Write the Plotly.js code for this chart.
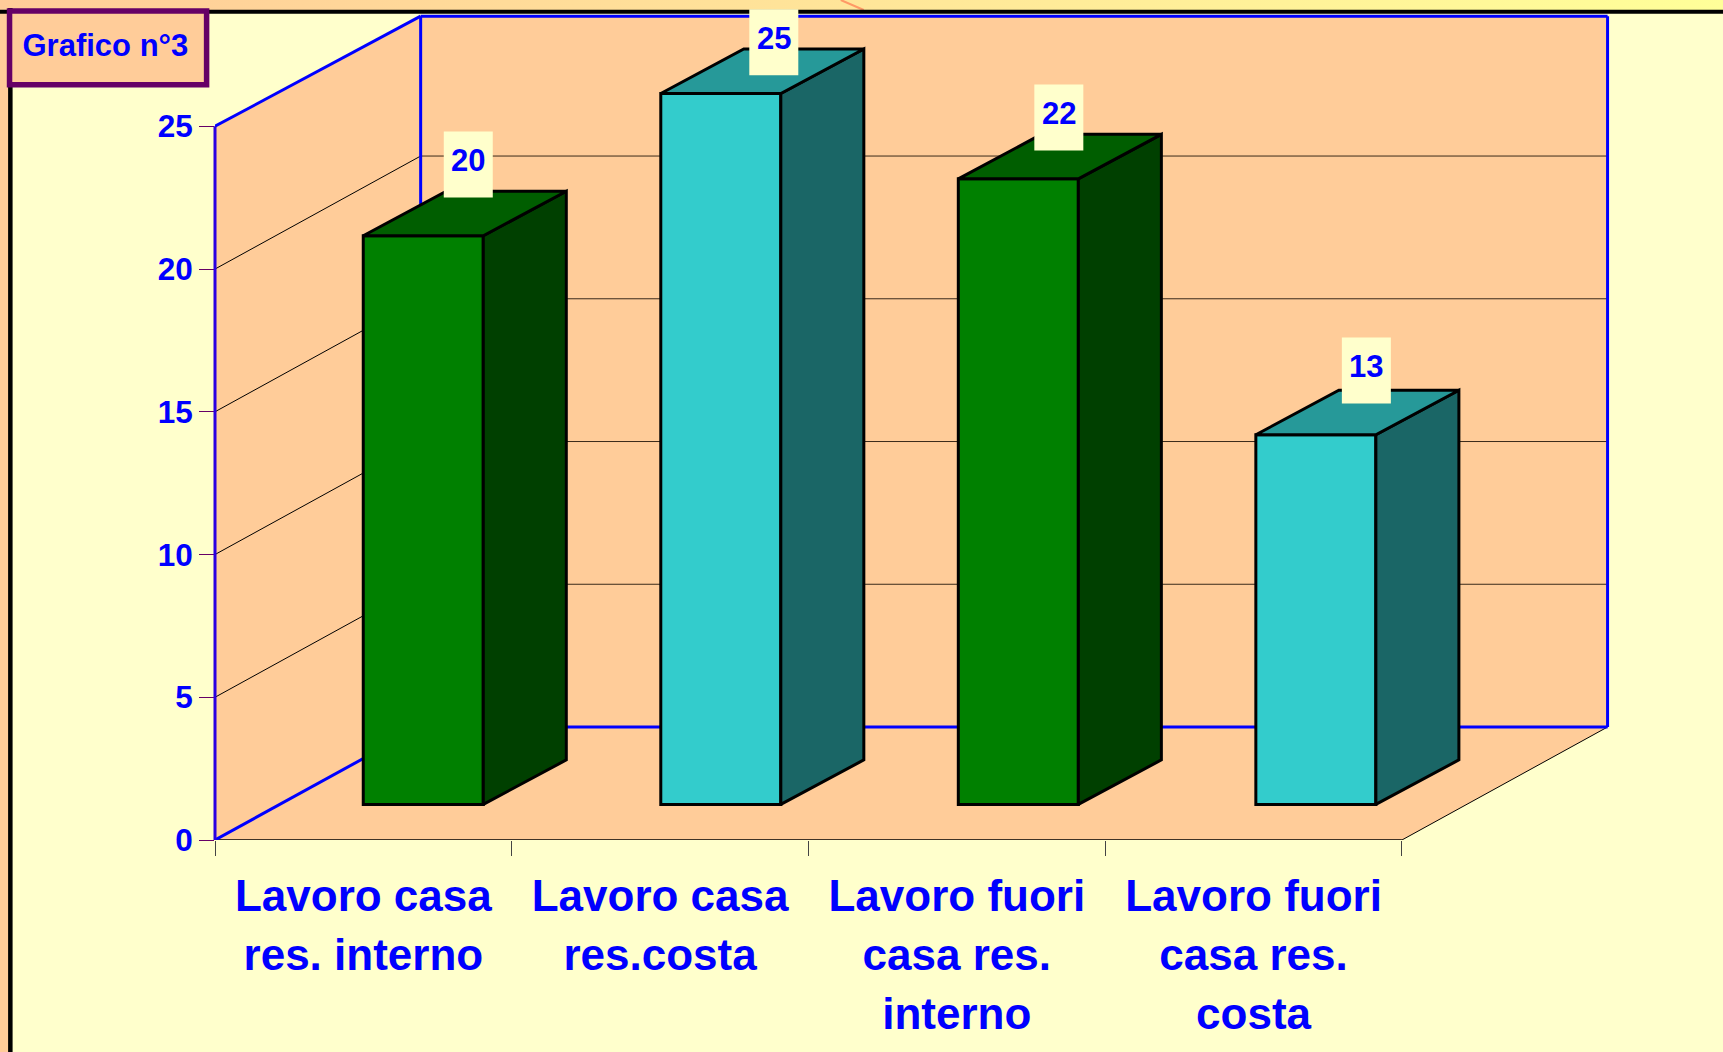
<!DOCTYPE html>
<html><head><meta charset="utf-8">
<script src="https://cdn.plot.ly/plotly-3.0.1.min.js"></script>
<style>
html,body{margin:0;padding:0;width:1723px;height:1052px;overflow:hidden;background:linear-gradient(to right,#FFCC99,#FFFF99);}
#chart{width:1723px;height:1052px;}
</style></head><body><div id="chart"></div>
<script>
// ---- data ----
const categories = ["Lavoro casa<br>res. interno","Lavoro casa<br>res.costa","Lavoro fuori<br>casa res.<br>interno","Lavoro fuori<br>casa res.<br>costa"];
const values = [20,25,22,13];
const yTicks = [0,5,10,15,20,25];
const chartTitle = "Grafico n°3";

// ---- styles ----
const BLUE="#0000FF", PEACH="#FFCC99", PALE="#FFFFCC", PURPLE="#660066", FONT="Liberation Sans, Arial, sans-serif";
const frontColors=["#008000","#33CCCC","#008000","#33CCCC"];
const topColors  =["#005E00","#269999","#005E00","#269999"];
const sideColors =["#004000","#1A6666","#004000","#1A6666"];

// ---- geometry of the frame ----
const W=1723,H=1052, X0=215.4, Y0=840, catPx=296.65, valPx=28.548;
const wallDX=205.6/catPx, wallDY=113/valPx;   // wall depth in axis units
const barScale=0.996;                          // vertical scale of bars / back wall top
const barPitch=1.0027, barStart=0.4996, barW=120/catPx;
const barBase=35.6/valPx, barDX=83/catPx, barDY=44.5/valPx;
const labelShift=[[3.5,49],[11.5,29],[-1,39],[9,42]];
const labelLift=4, edge=3, wallLine=3;

const P=(c,d,v)=>[c+wallDX*d, v+wallDY*d];
const pathOf=pts=>"M"+pts.map(p=>p[0]+" "+p[1]).join("L")+"Z";
const poly=(pts,fill,line,w)=>({type:"path",xref:"x",yref:"y",layer:"below",path:pathOf(pts),fillcolor:fill,line:{color:line||fill,width:line?w:0}});
const seg=(a,b,color,w)=>({type:"line",xref:"x",yref:"y",layer:"below",x0:a[0],y0:a[1],x1:b[0],y1:b[1],line:{color,width:w}});
const px=x=>(x-X0)/(W-X0), py=y=>(Y0-y)/Y0;
const box=(x0,y0,x1,y1,fill,line,w,layer)=>({type:"rect",xref:"paper",yref:"paper",layer:layer||"below",x0:px(x0),x1:px(x1),y0:py(y0),y1:py(y1),fillcolor:fill,line:{color:line||fill,width:line?w:0}});
const pline=(x0,y0,x1,y1,c,w)=>({type:"line",xref:"paper",yref:"paper",layer:"below",x0:px(x0),x1:px(x1),y0:py(y0),y1:py(y1),line:{color:c,width:w}});

const nCat=categories.length, yMax=yTicks[yTicks.length-1], wallTop=yMax*barScale;
const shapes=[
  box(10,12,W+2,H+2,PALE),
  pline(841,0,864,10,"#FF9966",2),
  pline(-2,11.7,W,11.7,"#000000",4),
  pline(10.8,8,10.8,H,"#000000",4.5),
  poly([P(0,0,0),P(0,1,0),P(0,1,wallTop),P(0,0,yMax)],PEACH),
  poly([P(0,1,0),P(nCat,1,0),P(nCat,1,wallTop),P(0,1,wallTop)],PEACH),
  poly([P(0,0,0),P(nCat,0,0),P(nCat,1,0),P(0,1,0)],PEACH)
];
yTicks.filter(v=>v>0&&v<yMax).forEach(v=>{
  shapes.push(seg(P(0,0,v),P(0,1,v),"#000000",1));
  shapes.push(seg(P(0,1,v),P(nCat,1,v),"#3a2a1a",1));
});
shapes.push(
  seg(P(0,0,0),P(nCat,0,0),"#000000",1.5),
  seg(P(nCat,0,0),P(nCat,1,0),"#000000",1),
  seg(P(0,1,0),P(nCat,1,0),BLUE,wallLine),
  seg(P(0,0,0),P(0,1,0),BLUE,wallLine),
  seg(P(0,0,yMax),P(0,1,wallTop),BLUE,wallLine),
  seg(P(0,1,0),P(0,1,wallTop),BLUE,wallLine),
  seg(P(0,1,wallTop),P(nCat,1,wallTop),BLUE,wallLine),
  seg(P(nCat,1,0),P(nCat,1,wallTop),BLUE,wallLine)
);
// front edge of the side wall: paper-referenced, so the plot edge does not clip half of it
shapes.push({type:"line",xref:"paper",yref:"y",layer:"above",x0:0,x1:0,y0:0,y1:yMax,line:{color:"#2A00E0",width:wallLine}});
shapes.push(box(10,11,207,84.8,PEACH,PURPLE,5.5,"above"));

// ---- traces ----
const lefts=values.map((_,i)=>barStart+i*barPitch);
const heights=values.map(v=>v*barScale);
const traces=[{
  type:"bar",x:lefts.map(l=>l+barW/2),y:heights,base:values.map(()=>barBase),width:barW,
  marker:{color:frontColors,line:{color:"#000000",width:edge}},hoverinfo:"skip",showlegend:false
}];
values.forEach((v,i)=>{
  const l=lefts[i], r=l+barW, b=barBase, t=barBase+heights[i];
  const face=(xs,ys,c)=>traces.push({type:"scatter",mode:"lines",x:xs,y:ys,fill:"toself",fillcolor:c,
     line:{color:"#000000",width:edge},hoverinfo:"skip",showlegend:false,cliponaxis:false});
  face([r,r+barDX,r+barDX,r,r],[b,b+barDY,t+barDY,t,b],sideColors[i]);
  face([l,r,r+barDX,l+barDX,l],[t,t,t+barDY,t+barDY,t],topColors[i]);
});

// data labels: pale box (pixel-sized shape anchored to the bar top) + text
const anchorX=i=>lefts[i]+barW/2+barDX/2, anchorY=i=>barBase+heights[i]+barDY/2;
values.forEach((v,i)=>{
  const [sx,sy]=labelShift[i];
  shapes.push({type:"rect",layer:"above",xref:"x",yref:"y",xsizemode:"pixel",ysizemode:"pixel",
    xanchor:anchorX(i),yanchor:anchorY(i),x0:sx-24.5,x1:sx+24.5,y0:sy-33,y1:sy+33,fillcolor:PALE,line:{width:0}});
});
const annotations=values.map((v,i)=>({
  xref:"x",yref:"y",x:anchorX(i),y:anchorY(i),
  xshift:labelShift[i][0],yshift:labelShift[i][1]+labelLift,
  text:String(v),showarrow:false,align:"center",
  xanchor:"center",yanchor:"middle",font:{family:FONT,size:31,color:BLUE,weight:700}
}));

const tickFontPx=44, tickLinePx=45.6; // font of the letters / font that sets the line spacing
const tickLabels=categories.map(c=>c.split("<br>").map(s=>'<span style="font-size:'+tickFontPx+'px">'+s+'</span>').join("<br>"));

const layout={
  width:W,height:H,autosize:false,
  paper_bgcolor:"rgba(0,0,0,0)",plot_bgcolor:"rgba(0,0,0,0)",
  margin:{l:X0,r:0,t:0,b:H-Y0,pad:0},
  showlegend:false,bargap:0,hovermode:false,
  title:{text:chartTitle,xref:"container",yref:"container",x:22.5/W,y:1-45/H,xanchor:"left",yanchor:"middle",
         font:{family:FONT,size:31,color:BLUE,weight:700}},
  xaxis:{type:"linear",range:[0,(W-X0)/catPx],showgrid:false,zeroline:false,showline:false,
    tickmode:"array",tickvals:categories.map((_,i)=>i+0.5),ticktext:tickLabels,ticks:"",tickangle:0,
    tickfont:{family:FONT,size:tickLinePx,color:BLUE,weight:700},ticklabelstandoff:24,
    minor:{ticks:"outside",tickmode:"array",tickvals:categories.map((_,i)=>i).concat([nCat]),ticklen:15,tickwidth:1,tickcolor:"#444444",showgrid:false}},
  yaxis:{type:"linear",range:[0,Y0/valPx],showgrid:false,zeroline:false,showline:false,
    tickmode:"array",tickvals:yTicks,ticktext:yTicks.map(String),ticks:"outside",ticklen:15,tickwidth:1,tickcolor:PURPLE,
    ticklabelshift:1.5,
    tickfont:{family:FONT,size:31.5,color:BLUE,weight:700}},
  shapes,annotations
};
Plotly.newPlot("chart",traces,layout,{displayModeBar:false,staticPlot:true});
</script></body></html>
